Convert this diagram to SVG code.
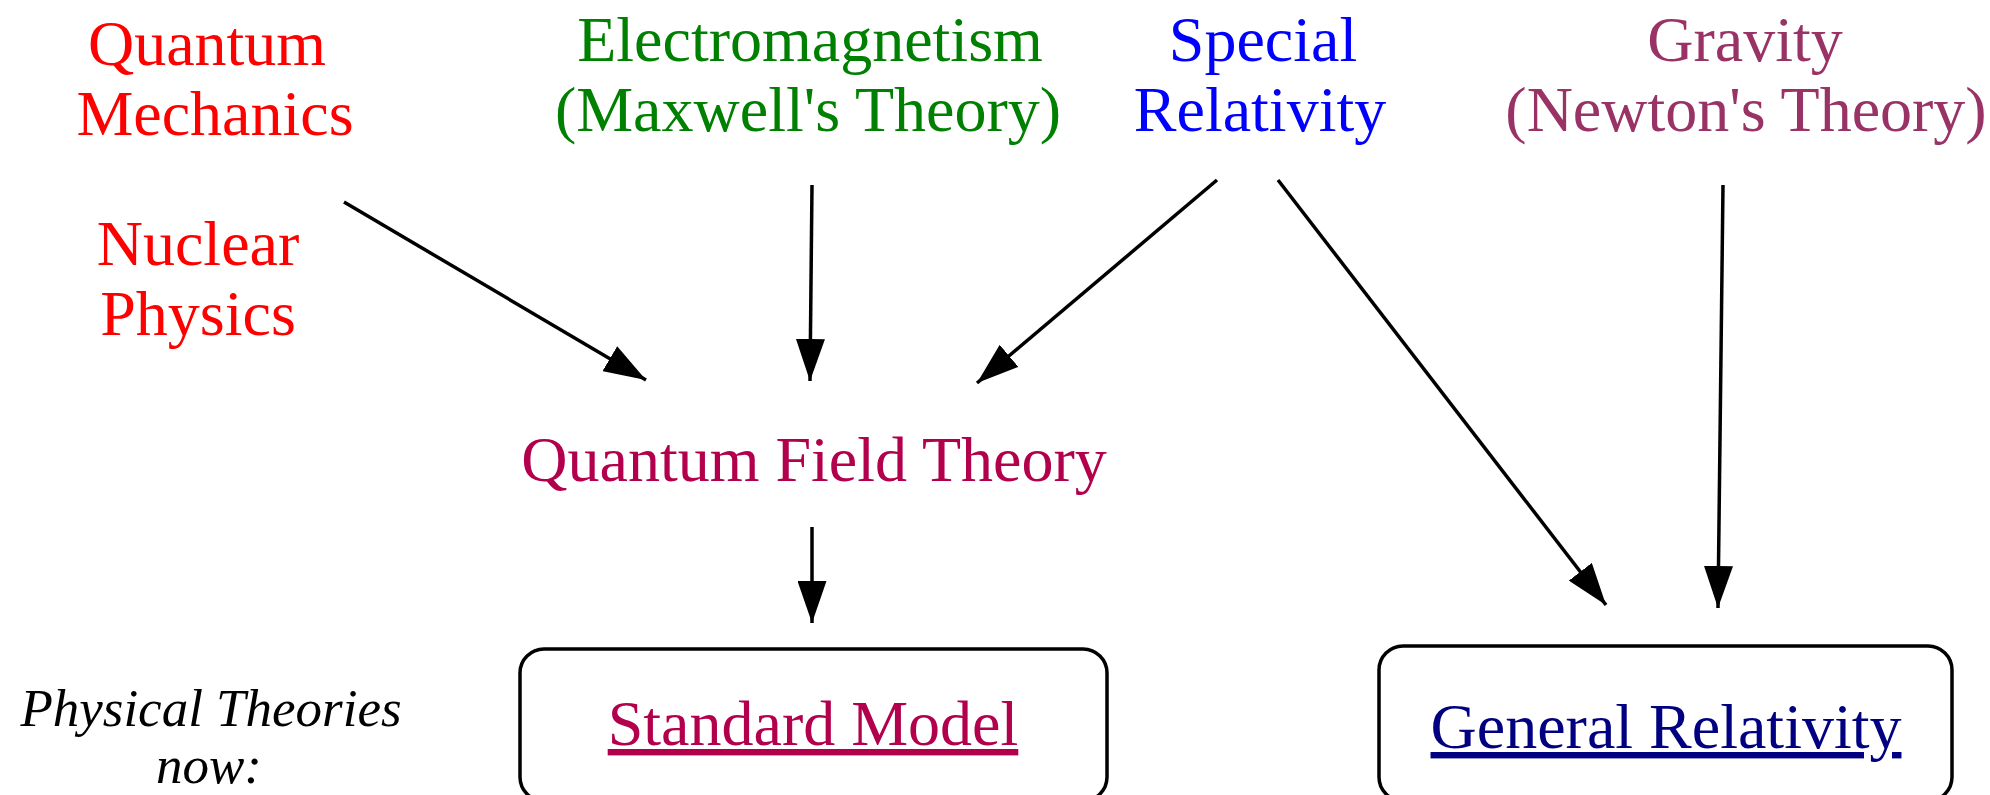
<svg xmlns="http://www.w3.org/2000/svg" width="1990" height="795" viewBox="0 0 1990 795">
<style>
  text { font-family: "Liberation Serif", "Times New Roman", serif; font-size: 64px; text-anchor: middle; }
  .qm { fill: #FF0000; }
  .em { fill: #008000; }
  .sr { fill: #0000FF; }
  .gr { fill: #993366; }
  .qft { fill: #B3004D; }
  .sm { fill: #B3004D; text-decoration: underline; }
  .genrel { fill: #000080; text-decoration: underline; }
  .note { fill: #000000; font-style: italic; font-size: 53px; }
  .box { fill: #FFFFFF; stroke: #000000; stroke-width: 3.5; }
  .conn line { stroke: #000000; stroke-width: 3.5; marker-end: url(#arrow); }
</style>
<defs>
  <marker id="arrow" viewBox="0 0 42 29" refX="42" refY="14.5" markerWidth="42" markerHeight="29" markerUnits="userSpaceOnUse" orient="auto">
    <path d="M0,0 L42,14.5 L0,29 Z" fill="#000000"/>
  </marker>
</defs>
<rect width="1990" height="795" fill="#FFFFFF"/>

<g id="quantum-mechanics">
  <text class="qm" x="207" y="65">Quantum</text>
  <text class="qm" x="215" y="135">Mechanics</text>
</g>
<g id="nuclear-physics">
  <text class="qm" x="198" y="265">Nuclear</text>
  <text class="qm" x="198" y="335">Physics</text>
</g>
<g id="electromagnetism">
  <text class="em" x="810" y="61">Electromagnetism</text>
  <text class="em" x="808" y="131">(Maxwell's Theory)</text>
</g>
<g id="special-relativity">
  <text class="sr" x="1263" y="61">Special</text>
  <text class="sr" x="1260" y="131">Relativity</text>
</g>
<g id="gravity">
  <text class="gr" x="1745" y="61">Gravity</text>
  <text class="gr" x="1746" y="131">(Newton's Theory)</text>
</g>
<g id="quantum-field-theory">
  <text class="qft" x="814" y="481">Quantum Field Theory</text>
</g>
<g id="physical-theories-now">
  <text class="note" x="211" y="726">Physical Theories</text>
  <text class="note" x="209" y="783">now:</text>
</g>
<g id="standard-model">
  <rect class="box" x="520" y="649" width="587" height="152" rx="24" ry="24"/>
  <text class="sm" x="813" y="745">Standard Model</text>
</g>
<g id="general-relativity">
  <rect class="box" x="1379" y="646" width="573" height="155" rx="24" ry="24"/>
  <text class="genrel" x="1666" y="748">General Relativity</text>
</g>

<g id="connectors" class="conn">
  <line x1="344" y1="202" x2="646" y2="380"/>
  <line x1="812" y1="185" x2="810" y2="381"/>
  <line x1="1217" y1="180" x2="977" y2="383"/>
  <line x1="1278" y1="180" x2="1606" y2="605"/>
  <line x1="1723" y1="185" x2="1718" y2="608"/>
  <line x1="812" y1="527" x2="812" y2="623"/>
</g>
</svg>
